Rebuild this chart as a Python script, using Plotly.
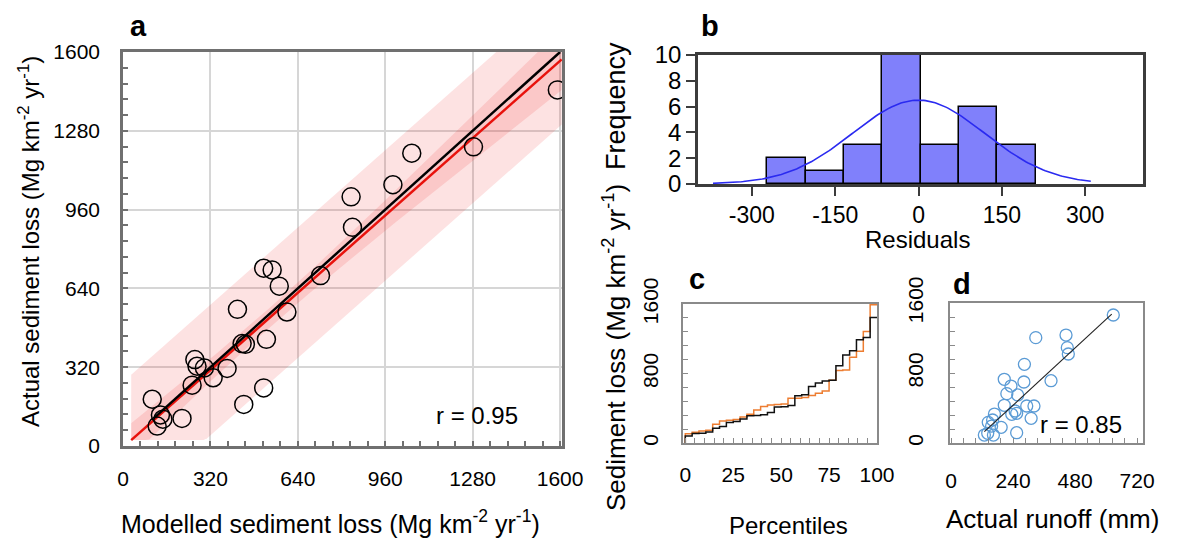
import numpy as np
import plotly.graph_objects as go

FONT = "Liberation Sans, Arial, Helvetica, sans-serif"
# the page body keeps an 8 px margin, so the figure is drawn 8 px smaller
OFF = 8
W, H = 1178 - OFF, 540 - OFF

# ---------------- Panel a: modelled vs actual sediment loss (Mg km-2 yr-1)
modelled = [1590, 1283, 1057, 988, 835, 840, 515, 546, 572, 723, 419, 600, 436, 448,
            525, 515, 442, 263, 271, 298, 381, 330, 253, 107, 137, 146, 125, 216]
actual = [1446, 1215, 1189, 1061, 1012, 888, 722, 715, 649, 692, 555, 544, 416, 413,
          433, 236, 169, 351, 324, 317, 315, 277, 247, 190, 126, 109, 81, 112]
fit_slope = 0.981
fit_intercept = -5.4
fit_x_range = [30, 1606]
fit_y_floor = 24
pred_halfwidth = 265
conf_center_halfwidth = 40
conf_spread = 0.110
one_to_one_range = [112, 1600]
r_a_label = "r = 0.95"
a_ticks = [0, 320, 640, 960, 1280, 1600]

# ---------------- Panel b: residual histogram
bin_edges = [-272, -203, -134, -65, 4, 73, 142, 211]
bin_counts = [2, 1, 3, 10, 3, 6, 3]
resid_mean = 0.0
resid_sd = 118.6
curve_range = [-370, 310]
b_xticks = [-300, -150, 0, 150, 300]
b_yticks = [0, 2, 4, 6, 8, 10]

# ---------------- Panel c: percentiles
c_xticks = [0, 25, 50, 75, 100]
cd_yticks = [0, 800, 1600]

# ---------------- Panel d: runoff vs actual sediment loss
runoff = [628, 328, 445, 450, 454, 284, 387, 206, 282, 232, 216, 258, 206, 293,
          321, 248, 235, 254, 168, 310, 144, 161, 194, 157, 254, 129, 142, 164]
d_loss = [1463, 1204, 1234, 1090, 1017, 899, 712, 728, 697, 651, 564, 549, 431, 423,
          423, 366, 328, 339, 331, 282, 236, 263, 179, 194, 118, 91, 111, 91]
d_fit_slope = 2.728
d_fit_intercept = -223
d_fit_range = [129, 622]
r_d_label = "r = 0.85"
d_xticks = [0, 240, 480, 720]


def px(x):
    return (x - OFF) / W


def py(y):
    return 1 - (y - OFF) / H


fig = go.Figure()

# ---- panel a traces
xs = np.linspace(fit_x_range[0], fit_x_range[1], 120)
yfit = fit_slope * xs + fit_intercept
xmean = float(np.mean(modelled))
conf_hw = np.sqrt(conf_center_halfwidth ** 2 + (conf_spread * (xs - xmean)) ** 2)
pred_up = yfit + pred_halfwidth
pred_lo = np.maximum(yfit - pred_halfwidth, fit_y_floor)
conf_up = yfit + conf_hw
conf_lo = np.maximum(yfit - conf_hw, fit_y_floor)
band_color = "rgba(240,20,20,0.12)"
fig.add_trace(go.Scatter(x=np.concatenate([xs, xs[::-1]]), y=np.concatenate([pred_up, pred_lo[::-1]]),
                         fill="toself", fillcolor=band_color, line=dict(width=0), mode="lines",
                         hoverinfo="skip", showlegend=False, xaxis="x", yaxis="y"))
fig.add_trace(go.Scatter(x=np.concatenate([xs, xs[::-1]]), y=np.concatenate([conf_up, conf_lo[::-1]]),
                         fill="toself", fillcolor=band_color, line=dict(width=0), mode="lines",
                         hoverinfo="skip", showlegend=False, xaxis="x", yaxis="y"))
fig.add_trace(go.Scatter(x=xs, y=yfit, mode="lines", line=dict(color="#e8120c", width=2.5),
                         showlegend=False, xaxis="x", yaxis="y"))
fig.add_trace(go.Scatter(x=one_to_one_range, y=one_to_one_range, mode="lines",
                         line=dict(color="black", width=2.5), showlegend=False, xaxis="x", yaxis="y"))
fig.add_trace(go.Scatter(x=modelled, y=actual, mode="markers",
                         marker=dict(symbol="circle-open", size=18, color="black", line=dict(width=1.5)),
                         showlegend=False, xaxis="x", yaxis="y"))

# ---- panel b traces
edges = np.array(bin_edges, dtype=float)
centers = (edges[:-1] + edges[1:]) / 2
widths = np.diff(edges)
fig.add_trace(go.Bar(x=centers, y=bin_counts, width=widths, marker=dict(color="#8080fb",
                     line=dict(color="black", width=1.5)), showlegend=False, xaxis="x2", yaxis="y2"))
n_obs = sum(bin_counts)
bw = float(np.mean(widths))
cx = np.linspace(curve_range[0], curve_range[1], 200)
cy = n_obs * bw * np.exp(-0.5 * ((cx - resid_mean) / resid_sd) ** 2) / (resid_sd * np.sqrt(2 * np.pi))
fig.add_trace(go.Scatter(x=cx, y=cy, mode="lines", line=dict(color="#2a2af0", width=1.6),
                         showlegend=False, xaxis="x2", yaxis="y2"))


# ---- panel c traces (empirical distributions)
def ecdf(vals):
    s = sorted(vals)
    n = len(s)
    xx = [0.0] + [100.0 * k / n for k in range(n)] + [100.0]
    yy = [0.0] + s + [s[-1]]
    return xx, yy


ox, oy = ecdf(modelled)
bx, by = ecdf(actual)
fig.add_trace(go.Scatter(x=ox, y=oy, mode="lines", line=dict(color="#ed7d31", width=1.5, shape="hv"),
                         showlegend=False, xaxis="x3", yaxis="y3"))
fig.add_trace(go.Scatter(x=bx, y=by, mode="lines", line=dict(color="#111111", width=1.5, shape="hv"),
                         showlegend=False, xaxis="x3", yaxis="y3"))

# ---- panel d traces
fig.add_trace(go.Scatter(x=runoff, y=d_loss, mode="markers",
                         marker=dict(symbol="circle-open", size=12, color="#5b9bd5", line=dict(width=1.3)),
                         showlegend=False, xaxis="x4", yaxis="y4"))
fig.add_trace(go.Scatter(x=d_fit_range, y=[d_fit_slope * v + d_fit_intercept for v in d_fit_range],
                         mode="lines", line=dict(color="#222222", width=1.1), showlegend=False,
                         xaxis="x4", yaxis="y4"))

tickfont_a = dict(family=FONT, size=21, color="black")
frame_a = "#707070"
frame_cd = "#8a8a8a"

layout = dict(
    template="none",
    width=W, height=H, autosize=False,
    margin=dict(l=0, r=0, t=0, b=0, pad=0),
    paper_bgcolor="white", plot_bgcolor="white",
    font=dict(family=FONT, color="black", size=20),
    showlegend=False,
    # panel a
    xaxis=dict(domain=[px(123), px(562)], range=[0, 1607], anchor="y", automargin=False,
               tickvals=a_ticks, ticks="inside", ticklen=5, tickcolor=frame_a, tickwidth=1.5,
               minor=dict(dtick=64, tick0=0, ticks="inside", ticklen=5, tickcolor=frame_a, tickwidth=1.5),
               showgrid=True, gridcolor="#d6d6d6", gridwidth=2, zeroline=False,
               showline=True, linecolor=frame_a, linewidth=2.5, mirror=True,
               tickfont=tickfont_a, ticklabelstandoff=12),
    yaxis=dict(domain=[py(446), py(52)], range=[0, 1600], anchor="x", automargin=False,
               tickvals=a_ticks, ticks="inside", ticklen=5, tickcolor=frame_a, tickwidth=1.5,
               minor=dict(dtick=64, tick0=0, ticks="inside", ticklen=5, tickcolor=frame_a, tickwidth=1.5),
               showgrid=True, gridcolor="#d6d6d6", gridwidth=2, zeroline=False,
               showline=True, linecolor=frame_a, linewidth=2.5, mirror=True,
               tickfont=tickfont_a, ticklabelstandoff=16),
    # panel b
    xaxis2=dict(domain=[px(698), px(1143)], range=[-397, 404], anchor="y2", automargin=False,
                tickvals=b_xticks, ticktext=[str(v) for v in b_xticks],
                ticks="outside", ticklen=9, tickwidth=1.5, tickcolor="#3c3c3c",
                showgrid=False, zeroline=False, showline=True, linecolor="#3c3c3c", linewidth=2.5,
                mirror=True, tickfont=dict(family=FONT, size=23, color="black")),
    yaxis2=dict(domain=[py(184), py(55)], range=[0, 10], anchor="x2", automargin=False,
                tickvals=b_yticks, ticks="outside", ticklen=9, tickwidth=1.5, tickcolor="#3c3c3c",
                showgrid=False, zeroline=False, showline=True, linecolor="#3c3c3c", linewidth=2.5,
                mirror=True, tickfont=dict(family=FONT, size=24, color="black")),
    bargap=0,
    # panel c
    xaxis3=dict(domain=[px(683), px(877)], range=[-1.2, 100], anchor="y3", automargin=False,
                tickvals=c_xticks, ticks="inside", ticklen=5, tickcolor=frame_cd, tickwidth=1.2,
                minor=dict(dtick=5, tick0=0, ticks="inside", ticklen=5, tickcolor=frame_cd, tickwidth=1.2),
                showgrid=False, zeroline=False, showline=True, linecolor=frame_cd, linewidth=1.5,
                mirror=True, tickfont=dict(family=FONT, size=21, color="black"), ticklabelstandoff=12),
    yaxis3=dict(domain=[py(443), py(304)], range=[0, 1600], anchor="x3", automargin=False,
                tickvals=cd_yticks, tickangle=-90, ticks="inside", ticklen=5, tickcolor=frame_cd, tickwidth=1.2,
                minor=dict(dtick=160, tick0=0, ticks="inside", ticklen=5, tickcolor=frame_cd, tickwidth=1.2),
                showgrid=False, zeroline=False, showline=True, linecolor=frame_cd, linewidth=1.5,
                mirror=True, tickfont=dict(family=FONT, size=21, color="black"), ticklabelstandoff=15),
    # panel d
    xaxis4=dict(domain=[px(950), px(1143)], range=[-4, 743], anchor="y4", automargin=False,
                tickvals=d_xticks, ticks="inside", ticklen=5, tickcolor=frame_cd, tickwidth=1.2,
                minor=dict(dtick=48, tick0=0, ticks="inside", ticklen=5, tickcolor=frame_cd, tickwidth=1.2),
                showgrid=False, zeroline=False, showline=True, linecolor=frame_cd, linewidth=1.5,
                mirror=True, tickfont=dict(family=FONT, size=21, color="black"), ticklabelstandoff=18),
    yaxis4=dict(domain=[py(443), py(303)], range=[0, 1600], anchor="x4", automargin=False,
                tickvals=cd_yticks, tickangle=-90, ticks="inside", ticklen=5, tickcolor=frame_cd, tickwidth=1.2,
                minor=dict(dtick=160, tick0=0, ticks="inside", ticklen=5, tickcolor=frame_cd, tickwidth=1.2),
                showgrid=False, zeroline=False, showline=True, linecolor=frame_cd, linewidth=1.5,
                mirror=True, tickfont=dict(family=FONT, size=21, color="black"), ticklabelstandoff=17),
)
fig.update_layout(**layout)


def ann(text, x, y, size, angle=0, bold=False):
    fig.add_annotation(text=f"<b>{text}</b>" if bold else text, x=px(x), y=py(y),
                       xref="paper", yref="paper", xanchor="center", yanchor="middle",
                       showarrow=False, textangle=angle,
                       font=dict(family=FONT, size=size, color="black"))


unit = "(Mg km<sup>-2</sup> yr<sup>-1</sup>)"
ann("a", 138, 26, 29, bold=True)
ann("b", 710, 26, 29, bold=True)
ann("c", 697, 279, 29, bold=True)
ann("d", 962, 284, 29, bold=True)
ann("Actual sediment loss " + unit, 29, 242, 24, angle=-90)
ann("Modelled sediment loss " + unit, 330, 522, 25)
ann("Frequency", 616, 106, 27, angle=-90)
ann("Residuals", 917, 239, 24)
ann("Sediment loss " + unit, 614, 348, 26, angle=-90)
ann("Percentiles", 788, 525, 24)
ann("Actual runoff (mm)", 1052, 519, 26)
ann(r_a_label, 477, 415, 24)
ann(r_d_label, 1081, 424, 24)

fig.write_html("out.html")
